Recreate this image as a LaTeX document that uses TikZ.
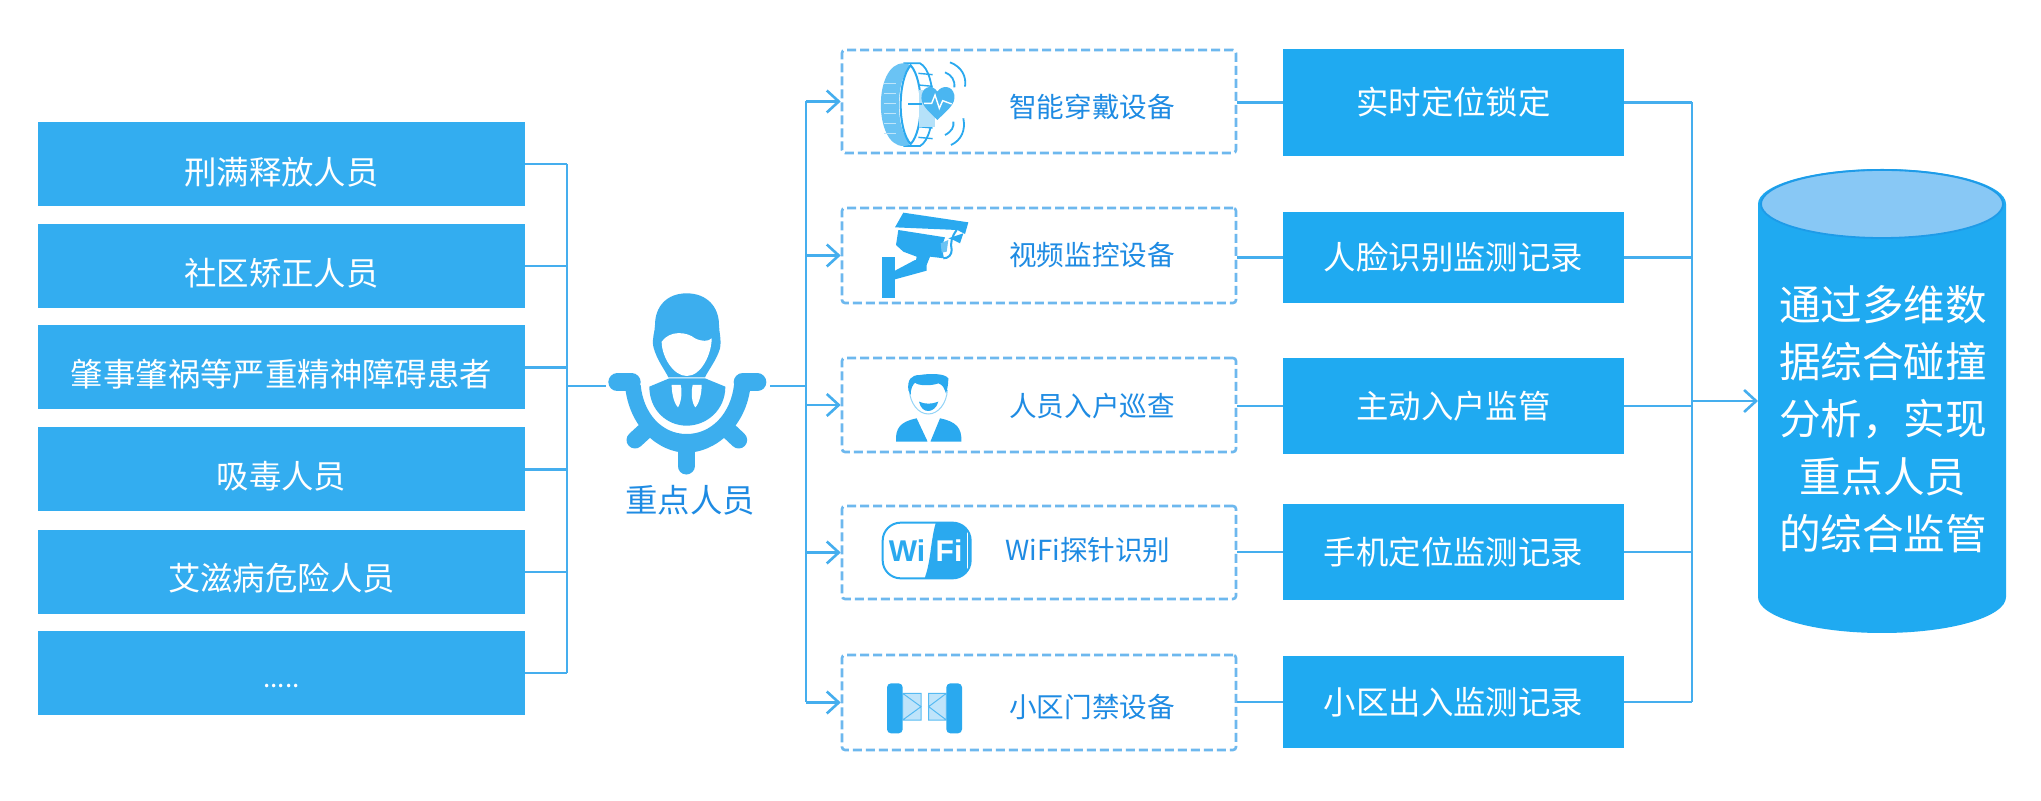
\documentclass[tikz,border=0pt]{standalone}
\usepackage{fontspec}
\setmainfont{Noto Sans CJK SC}
\newfontfamily\latinbold{Liberation Sans}
\usetikzlibrary{arrows.meta}
\definecolor{boxblue}{HTML}{33ADF0}
\definecolor{boxblueb}{HTML}{1FAAF1}
\definecolor{linkblue}{HTML}{45AEEE}
\definecolor{dashblue}{HTML}{6DB8EE}
\definecolor{textblue}{HTML}{1E8BE3}
\definecolor{capblue}{HTML}{88C8F5}
\definecolor{capedge}{HTML}{1E9BE8}
\definecolor{iconblue}{HTML}{2AA9EF}
\definecolor{hubblue}{HTML}{3CAEEE}
\definecolor{paleblue}{HTML}{BFE4FA}
\tikzset{
  lbox/.style={fill=boxblue,text=white,minimum width=243.5pt,minimum height=42pt,inner sep=0pt},
  ltext/.style={text=white,inner sep=0pt,font=\fontsize{16.2}{18}\selectfont},
  rbox/.style={fill=boxblueb,text=white,minimum width=170.5pt,inner sep=0pt,font=\fontsize{16.2}{18}\selectfont},
  dbox/.style={draw=dashblue,line width=1.3pt,dash pattern=on 4.5pt off 2pt,rounded corners=1.5pt,minimum width=197pt,inner sep=0pt},
  dlabel/.style={text=textblue,inner sep=0pt,font=\fontsize{13.8}{16}\selectfont},
  link/.style={draw=linkblue,line width=1.4pt},
  flow/.style={link,-{Straight Barb[length=6pt,width=11pt,line width=1.3pt]}},
  icon/.style={x=0.16667pt,y=-0.16667pt},
  cyltext/.style={text=white,align=center,inner sep=0pt,font=\fontsize{20.8}{28.6}\selectfont}
}
\begin{document}
\begin{tikzpicture}[x=0.5pt,y=-0.5pt]
\useasboundingbox (0,0) rectangle (2041,801);
\fill[white] (0,0) rectangle (2041,801);
% left boxes
\node[lbox] (a1) at (281.5,164) {};
\node[lbox] (a2) at (281.5,266) {};
\node[lbox] (a3) at (281.5,367.5) {};
\node[lbox] (a4) at (281.5,469.5) {};
\node[lbox] (a5) at (281.5,572) {};
\node[lbox] (a6) at (281.5,673) {};
\node[ltext] (la1) at (281.5,172) {刑满释放人员};
\node[ltext] (la2) at (281.5,273) {社区矫正人员};
\node[ltext] (la3) at (281.5,374) {肇事肇祸等严重精神障碍患者};
\node[ltext] (la4) at (281.5,476) {吸毒人员};
\node[ltext] (la5) at (281.5,578) {艾滋病危险人员};
\node[text=white,inner sep=0pt,font=\fontsize{13}{16}\selectfont] (la6) at (281.5,686) {.....};
% hub
\begin{scope}[shift={(530,270)},icon]
  \fill[hubblue] (470,70) .. controls (530,70) and (567,110) .. (567,165)
     .. controls (567,185) and (575,210) .. (570,235)
     .. controls (560,270) and (535,300) .. (525,322) -- (415,322)
     .. controls (405,300) and (380,270) .. (370,230)
     .. controls (365,205) and (375,185) .. (375,165)
     .. controls (375,110) and (410,70) .. (470,70) -- cycle;
  \fill[white] (395,215) .. controls (420,180) and (470,185) .. (495,205)
     .. controls (515,215) and (535,215) .. (545,205)
     .. controls (545,250) and (515,318) .. (470,318)
     .. controls (430,318) and (395,260) .. (395,215) -- cycle;
  \fill[hubblue] (358,350) -- (418,325) -- (525,325) -- (586,350)
     .. controls (586,420) and (530,467) .. (470,467)
     .. controls (410,467) and (358,420) .. (358,350) -- cycle;
  \fill[white] (425,345) -- (452,345) .. controls (458,370) and (452,400) .. (444,412) .. controls (432,400) and (425,370) .. (425,345) -- cycle;
  \fill[white] (488,345) -- (515,345) .. controls (515,370) and (508,400) .. (496,412) .. controls (486,400) and (482,370) .. (488,345) -- cycle;
  % ring, filled as a crescent
  \fill[hubblue] (285,345) .. controls (295,470) and (385,548) .. (470,548) .. controls (555,548) and (650,470) .. (662,345)
     -- (612,345) .. controls (602,430) and (545,492) .. (470,492) .. controls (395,492) and (340,430) .. (332,345) -- cycle;
  \draw[hubblue,line width=9pt,line cap=round] (262,337) -- (305,337);
  \draw[hubblue,line width=9pt,line cap=round] (638,337) -- (682,337);
  \draw[hubblue,line width=8.5pt,line cap=round] (468,530) -- (468,588);
  \draw[hubblue,line width=8.5pt,line cap=round] (315,510) -- (350,478);
  \draw[hubblue,line width=8.5pt,line cap=round] (626,510) -- (592,478);
\end{scope}
\node[text=textblue,inner sep=0pt,font=\fontsize{16.2}{18}\selectfont] (hublabel) at (690,500) {重点人员};
\coordinate (hubW) at (606,386);
\coordinate (hubE) at (770,386);
\coordinate (busL) at (567,386);
\coordinate (busR) at (806,386);
% dashed boxes
\node[dbox,minimum height=51.5pt] (d1) at (1039,101.5) {};
\node[dbox,minimum height=47.5pt] (d2) at (1039,255.5) {};
\node[dbox,minimum height=47pt] (d3) at (1039,405) {};
\node[dbox,minimum height=46.5pt] (d4) at (1039,552.5) {};
\node[dbox,minimum height=47.5pt] (d5) at (1039,702.5) {};
\node[dlabel] (t1) at (1092,107) {智能穿戴设备};
\node[dlabel] (t2) at (1092,255) {视频监控设备};
\node[dlabel] (t3) at (1092,406) {人员入户巡查};
\node[dlabel] (t4) at (1088,550) {WiFi探针识别};
\node[dlabel] (t5) at (1092,707) {小区门禁设备};
% right boxes
\node[rbox,minimum height=53.5pt] (r1) at (1453.5,102.5) {实时定位锁定};
\node[rbox,minimum height=45.5pt] (r2) at (1453.5,257.5) {人脸识别监测记录};
\node[rbox,minimum height=48pt] (r3) at (1453.5,406) {主动入户监管};
\node[rbox,minimum height=48pt] (r4) at (1453.5,552) {手机定位监测记录};
\node[rbox,minimum height=46pt] (r5) at (1453.5,702) {小区出入监测记录};
% wearable icon
\begin{scope}[shift={(820,30)},icon]
  \fill[white] (250,100) -- (300,100) .. controls (352,125) and (352,320) .. (300,348) -- (250,348) -- cycle;
  \draw[iconblue,line width=0.9pt] (250,100) -- (300,100) .. controls (352,125) and (352,320) .. (300,348) -- (250,348);
  \foreach \yy in {130,165,290,322} \draw[iconblue,line width=0.7pt] (295,\yy) -- (338,\yy+4);
  \fill[iconblue!70] (250,100) .. controls (160,100) and (160,348) .. (250,348) .. controls (258,348) and (266,346) .. (272,342) .. controls (225,300) and (225,150) .. (272,106) .. controls (266,102) and (258,100) .. (250,100) -- cycle;
  \foreach \yy in {160,190,220,250,280,310} \draw[white!70!iconblue,line width=0.5pt] (192,\yy) -- (228,\yy);
  \fill[white] (272,106) .. controls (232,150) and (232,300) .. (272,342) .. controls (312,300) and (312,150) .. (272,106) -- cycle;
  \draw[iconblue,line width=1pt] (272,106) .. controls (232,150) and (232,300) .. (272,342) .. controls (312,300) and (312,150) .. (272,106) -- cycle;
  \fill[iconblue!35] (298,180) rectangle (345,290);
  \fill[iconblue!85] (352,270) .. controls (320,238) and (300,222) .. (305,195) .. controls (312,165) and (340,165) .. (352,185) .. controls (365,165) and (397,165) .. (403,195) .. controls (407,222) and (385,238) .. (352,270) -- cycle;
  \draw[white,line width=0.7pt] (312,220) -- (335,220) -- (345,195) -- (358,235) -- (368,212) -- (395,222);
  \draw[iconblue,line width=0.7pt] (265,222) -- (305,222);
  \draw[iconblue,line width=0.9pt] (375,127) .. controls (395,135) and (405,150) .. (403,172);
  \draw[iconblue,line width=0.9pt] (390,97) .. controls (425,110) and (440,140) .. (435,170);
  \draw[iconblue,line width=0.9pt] (375,315) .. controls (395,305) and (403,290) .. (400,275);
  \draw[iconblue,line width=0.9pt] (393,345) .. controls (425,330) and (437,300) .. (430,265);
\end{scope}
% camera icon
\begin{scope}[shift={(820,30)},icon]
  \fill[iconblue] (250,548) -- (445,577) -- (435,612) -- (412,600) -- (225,592) -- cycle;
  \fill[iconblue] (235,600) -- (375,622) -- (365,650) -- (372,685) -- (330,680) -- (320,705) -- (225,735) -- (225,725) -- (285,705) -- (290,680) -- (250,665) -- (228,645) -- cycle;
  \fill[iconblue] (187,682) -- (225,682) -- (225,805) -- (187,805) -- cycle;
  \fill[iconblue] (225,748) -- (320,722) -- (320,695) -- (285,690) -- (225,722) -- cycle;
  \fill[iconblue] (385,625) -- (430,610) -- (420,640) -- (400,630) -- cycle;
  \draw[iconblue,line width=1pt] (410,600) .. controls (395,620) and (390,640) .. (395,660) .. controls (395,675) and (385,685) .. (370,685);
  \fill[iconblue!70] (362,640) -- (385,630) -- (380,665) -- (365,668) -- cycle;
\end{scope}
% person icon
\begin{scope}[shift={(820,340)},icon]
  \draw[iconblue!50,line width=0.5pt] (268,150) .. controls (270,190) and (295,222) .. (325,222) .. controls (355,222) and (380,190) .. (382,150);
  \fill[iconblue] (265,150) .. controls (262,120) and (272,105) .. (300,105) .. controls (330,100) and (375,100) .. (385,115) .. controls (385,130) and (382,150) .. (378,160) .. controls (372,145) and (370,135) .. (355,130) .. controls (335,138) and (295,138) .. (285,128) .. controls (278,135) and (272,145) .. (272,165) -- cycle;
  \fill[iconblue] (297,185) .. controls (315,193) and (335,193) .. (355,185) .. controls (350,205) and (335,213) .. (325,213) .. controls (312,213) and (302,205) .. (297,185) -- cycle;
  \fill[iconblue] (228,305) .. controls (226,265) and (240,245) .. (290,235) -- (322,303) -- (322,305) -- cycle;
  \fill[iconblue] (424,305) .. controls (426,265) and (410,245) .. (360,235) -- (332,303) -- (332,305) -- cycle;
\end{scope}
% wifi icon
\begin{scope}[shift={(820,340)},icon]
  \begin{scope}
    \clip[rounded corners=9pt] (188,548) rectangle (452,715);
    \fill[iconblue] (350,540) -- (460,540) -- (460,725) -- (310,725) .. controls (335,665) and (330,600) .. (350,540) -- cycle;
  \end{scope}
  \fill[white] (440,555) -- (445,555) -- (445,708) -- (440,708) -- cycle;
  \draw[iconblue,line width=1pt,rounded corners=9pt] (188,548) rectangle (452,715);
\end{scope}
\node[text=iconblue,inner sep=0pt,font=\latinbold\bfseries\fontsize{15}{18}\selectfont] (wi) at (907,551) {Wi};
\node[text=white,inner sep=0pt,font=\latinbold\bfseries\fontsize{15}{18}\selectfont] (fi) at (949,551) {Fi};
% gate icon
\begin{scope}[shift={(820,340)},icon]
  \fill[iconblue,rounded corners=2pt] (201,1030) rectangle (248,1180);
  \fill[iconblue,rounded corners=2pt] (379,1030) rectangle (426,1180);
  \fill[paleblue] (248,1060) rectangle (303,1140);
  \fill[paleblue] (326,1060) rectangle (379,1140);
  \draw[iconblue!80,line width=0.5pt] (248,1060) rectangle (303,1140) (248,1060) -- (303,1100) -- (248,1140);
  \draw[iconblue!80,line width=0.5pt] (326,1060) rectangle (379,1140) (379,1060) -- (326,1100) -- (379,1140);
\end{scope}
% cylinder
\fill[boxblueb] (1758,204) -- (1758,597) arc[start angle=180,end angle=0,x radius=124,y radius=36] -- (2006,204) arc[start angle=0,end angle=-180,x radius=124,y radius=35] -- cycle;
\draw[capedge,fill=capblue,line width=0.9pt] (1882,204) ellipse[x radius=121,y radius=34];
\coordinate (cylW) at (1758,401);
\node[cyltext] (cyl) at (1883,419) {通过多维数\\据综合碰撞\\分析，实现\\重点人员\\的综合监管};
% connectors
\foreach \n in {a1,a2,a3,a4,a5,a6} \draw[link] (\n.east) -- (\n.east -| busL);
\draw[link] (a1.east -| busL) -- (a6.east -| busL);
\draw[link] (busL) -- (hubW);
\draw[link] (hubE) -- (busR);
\draw[link] (d1.west -| busR) -- (d5.west -| busR);
\foreach \n in {d1,d2,d3,d4,d5} \draw[flow] (\n.west -| busR) -- (\n.west);
\foreach \n/\m in {d1/r1,d2/r2,d3/r3,d4/r4,d5/r5} \draw[link] (\m.west -| \n.east) -- (\m.west);
\coordinate (busE) at (1692,401);
\foreach \m in {r1,r2,r3,r4,r5} \draw[link] (\m.east) -- (\m.east -| busE);
\draw[link] (r1.east -| busE) -- (r5.east -| busE);
\draw[flow] (busE) -- (cylW);
\end{tikzpicture}
\end{document}
